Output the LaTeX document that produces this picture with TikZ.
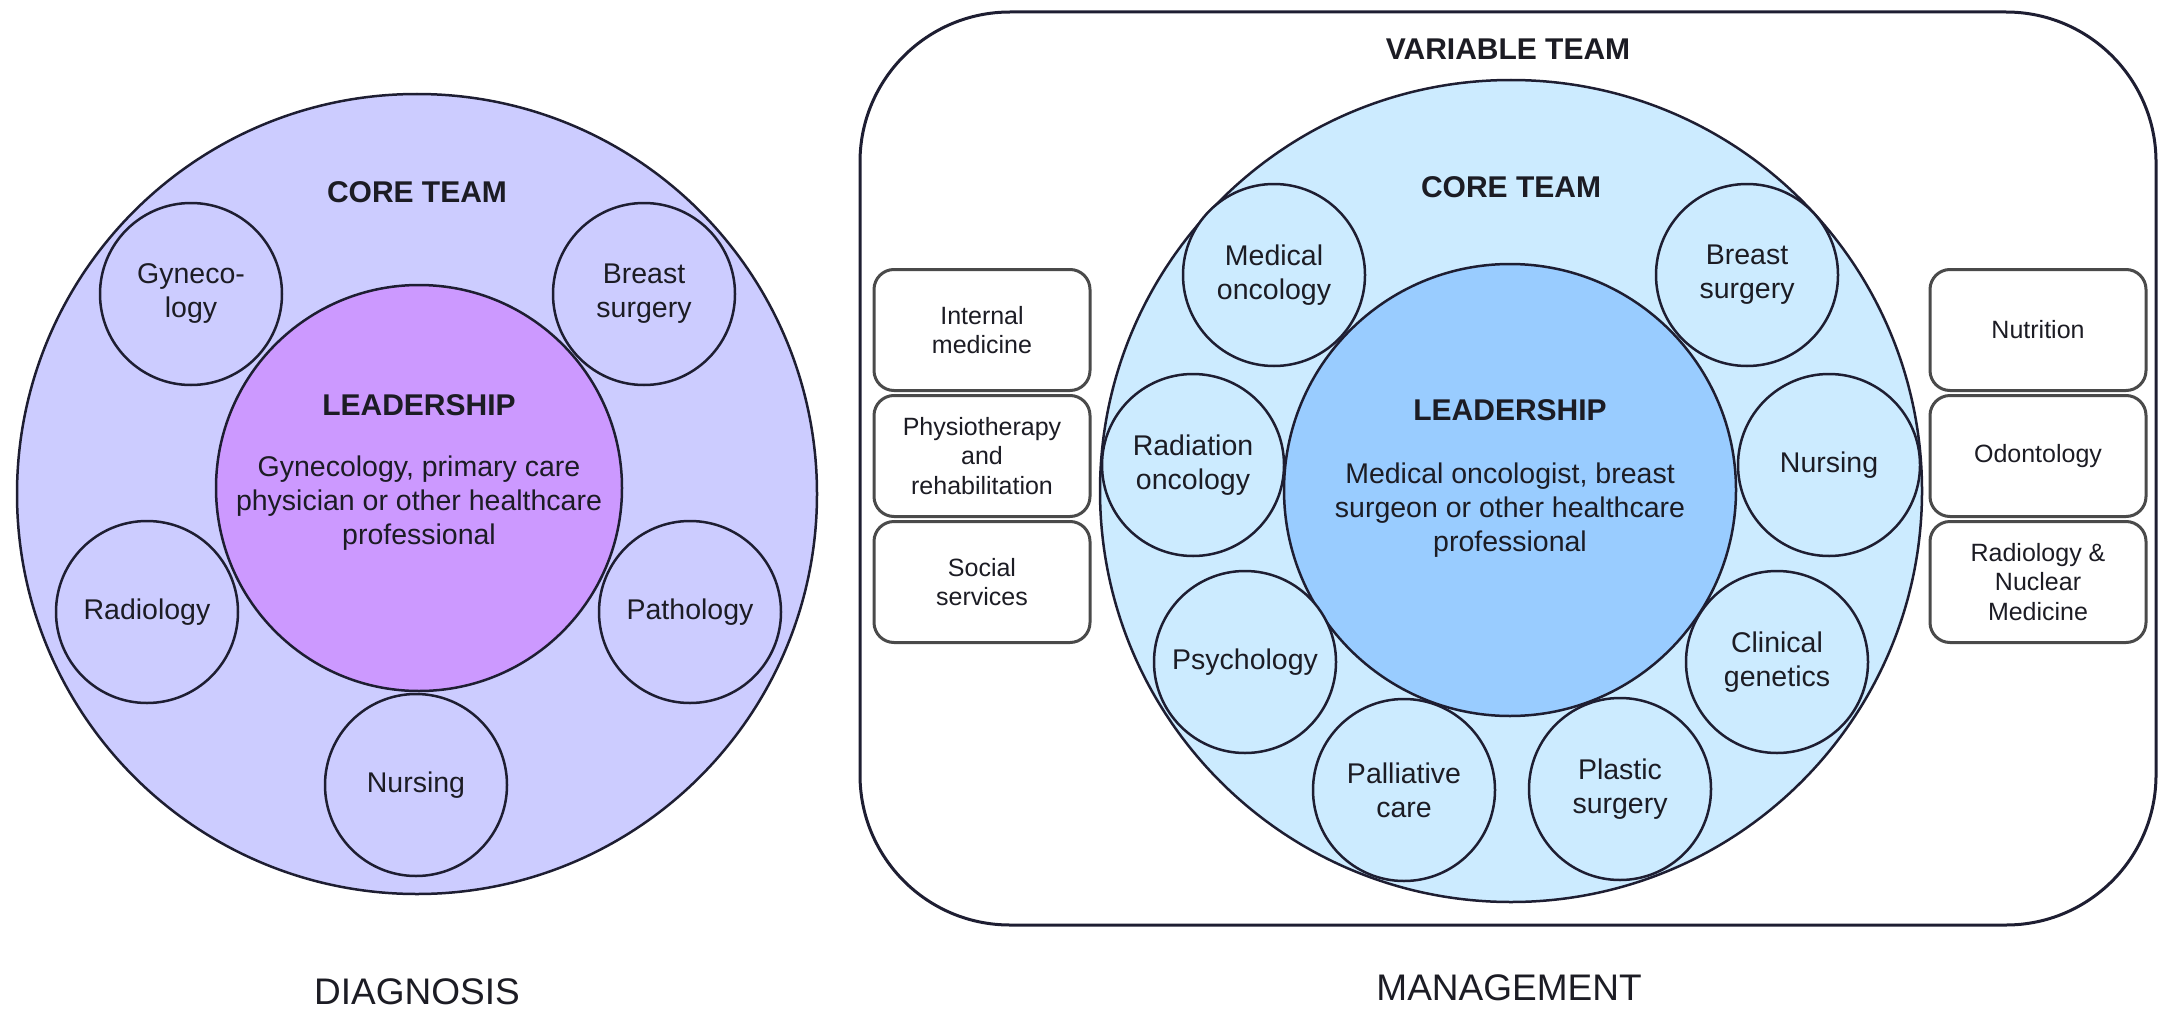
\documentclass[tikz,border=0pt]{standalone}
\usepackage{fontspec}
\setmainfont{Liberation Sans}
\usetikzlibrary{positioning}

\definecolor{diagfill}{HTML}{CCCCFF}
\definecolor{diagleadfill}{HTML}{CC99FF}
\definecolor{mgfill}{HTML}{CCEBFF}
\definecolor{mgleadfill}{HTML}{99CCFF}
\definecolor{rim}{HTML}{1E1E32}
\definecolor{boxrim}{HTML}{4A4A4A}
\definecolor{ink}{HTML}{1C1C24}

\newcommand\unitfont{\fontsize{28.5}{34}\selectfont}
\newcommand\boxfont{\fontsize{25}{29.5}\selectfont}
\newcommand\headfont{\fontsize{30}{34}\selectfont\bfseries}
\newcommand\capfont{\fontsize{37}{40}\selectfont}

\tikzset{
  ring/.style={circle, draw=rim, line width=2.5pt, inner sep=0pt, minimum size=#1},
  unit/.style={ring=182pt, align=center, font=\unitfont, text=ink},
  bodytext/.style={align=center, font=\unitfont, text=ink},
  heading/.style={font=\headfont, text=ink},
  caption/.style={font=\capfont, text=ink},
  sidebox/.style={draw=boxrim, line width=3pt, rounded corners=20pt, fill=white,
    minimum width=216pt, minimum height=121pt, inner sep=0pt, align=center,
    font=\boxfont, text=ink}
}

\begin{document}
\begin{tikzpicture}[x=1pt, y=-1pt]
  \useasboundingbox (0,0) rectangle (2159,1014);

  % Diagnosis
  \node[ring=800pt, fill=diagfill] (dxcore) at (417,494) {};
  \node[heading] (dxcoretitle) at (417,192) {CORE TEAM};
  \node[ring=406pt, fill=diagleadfill] (dxlead) at (419,488) {};
  \node[heading] (dxleadtitle) at (419,405) {LEADERSHIP};
  \node[bodytext] (dxleadtext) at (419,503) {Gynecology, primary care\\physician or other healthcare\\professional};
  \node[unit, fill=diagfill] (dxgyn) at (191,294) {Gyneco-\\logy};
  \node[unit, fill=diagfill] (dxbreast) at (644,294) {Breast\\surgery};
  \node[unit, fill=diagfill] (dxradio) at (147,612) {Radiology};
  \node[unit, fill=diagfill] (dxpath) at (690,612) {Pathology};
  \node[unit, fill=diagfill] (dxnurse) at (416,785) {Nursing};
  \node[caption] (dxcaption) at (417,992) {DIAGNOSIS};

  % Management
  \node[draw=rim, line width=3pt, rounded corners=150pt, minimum width=1296pt,
    minimum height=913pt, inner sep=0pt] (variable) at (1508,468.5) {};
  \node[heading] (vartitle) at (1508,49) {VARIABLE TEAM};
  \node[ring=822pt, fill=mgfill] (mgcore) at (1511,491) {};
  \node[heading] (mgcoretitle) at (1511,187) {CORE TEAM};
  \node[ring=452pt, fill=mgleadfill] (mglead) at (1510,490) {};
  \node[heading] (mgleadtitle) at (1510,410) {LEADERSHIP};
  \node[bodytext] (mgleadtext) at (1510,510) {Medical oncologist, breast\\surgeon or other healthcare\\professional};
  \foreach \name/\pos/\txt in {
      mgmedonc/{1274,275}/{Medical\\oncology},
      mgbreast/{1747,275}/{Breast\\surgery},
      mgradonc/{1193,465}/{Radiation\\oncology},
      mgnurse/{1829,465}/{Nursing},
      mgpsych/{1245,662}/{Psychology},
      mggenet/{1777,662}/{Clinical\\genetics},
      mgpalli/{1404,790}/{Palliative\\care},
      mgplast/{1620,789}/{Plastic\\surgery}}
    \node[unit, fill=mgfill] (\name) at (\pos) {\txt};

  % Variable team boxes
  \node[sidebox] (intmed) at (982,330) {Internal\\medicine};
  \node[sidebox, below=2pt of intmed] (physio) {Physiotherapy\\and\\rehabilitation};
  \node[sidebox, below=2pt of physio] (social) {Social\\services};
  \node[sidebox] (nutri) at (2038,330) {Nutrition};
  \node[sidebox, below=2pt of nutri] (odonto) {Odontology};
  \node[sidebox, below=2pt of odonto] (nuclear) {Radiology \&\\Nuclear\\Medicine};
  \node[caption] (mgcaption) at (1509,988) {MANAGEMENT};
\end{tikzpicture}
\end{document}
